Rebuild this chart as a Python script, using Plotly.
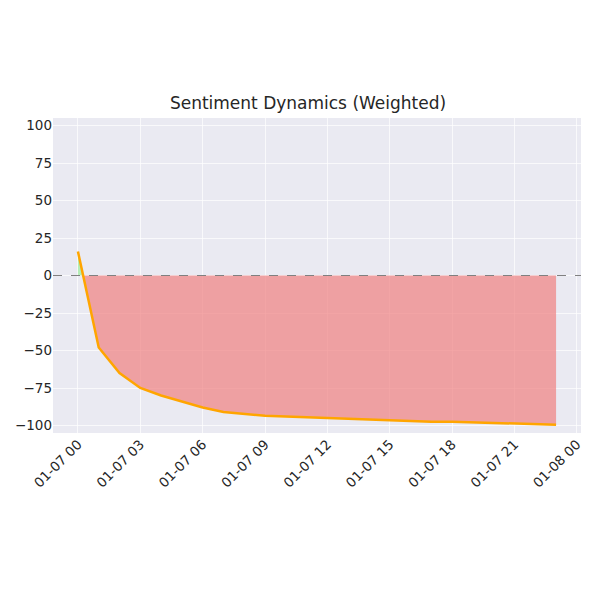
import plotly.graph_objects as go
import pandas as pd

hours = pd.date_range("2025-01-07 00:00", periods=24, freq="h")
sentiment = [16, -48, -65, -75, -80, -84, -88, -91, -92.5, -93.5, -94, -94.5, -95.5, -95.5,
             -96, -96.5, -97, -97.5, -97.5, -98, -98.5, -98.5, -99.5, -99.5]
tick_vals = pd.date_range("2025-01-07 00:00", periods=9, freq="3h")
tick_text = [t.strftime("%m-%d %H") for t in tick_vals]

# zero crossing between first two points (for splitting the fill)
frac = sentiment[0] / (sentiment[0] - sentiment[1])
t_cross = hours[0] + (hours[1] - hours[0]) * frac

fig = go.Figure()
fig.add_trace(go.Scatter(x=[hours[0], hours[0], t_cross], y=[0, sentiment[0], 0],
                         fill="toself", mode="none",
                         fillcolor="rgba(144,238,144,0.6)", showlegend=False))
fig.add_trace(go.Scatter(x=[t_cross] + list(hours[1:]), y=[0] + sentiment[1:],
                         fill="tozeroy", mode="none",
                         fillcolor="rgba(240,128,128,0.7)", showlegend=False))
fig.add_trace(go.Scatter(x=hours, y=sentiment, mode="lines",
                         line=dict(color="orange", width=2.5), showlegend=False))
fig.add_hline(y=0, line=dict(color="gray", dash="dash", width=1.2))

fig.update_layout(
    width=600, height=602,
    margin=dict(l=45, r=27, t=110, b=177, autoexpand=False),
    paper_bgcolor="white", plot_bgcolor="#EAEAF2",
    title=dict(text="Sentiment Dynamics (Weighted)", x=0.5, xanchor="center",
               y=1 - 95/602, yanchor="middle",
               font=dict(family="DejaVu Sans", size=17, color="#262626")),
    font=dict(family="DejaVu Sans", size=13.5, color="#262626"),
    xaxis=dict(range=[pd.Timestamp("2025-01-06 22:48"), pd.Timestamp("2025-01-08 00:12")],
               tickvals=tick_vals, ticktext=tick_text, tickangle=-45, automargin=False,
               gridcolor="rgba(255,255,255,0.7)", showline=False, zeroline=False),
    yaxis=dict(range=[-105, 105], tickvals=[-100, -75, -50, -25, 0, 25, 50, 75, 100],
               gridcolor="rgba(255,255,255,0.7)", zeroline=False, ticks="", automargin=False),
)
fig.write_html("out.html")
